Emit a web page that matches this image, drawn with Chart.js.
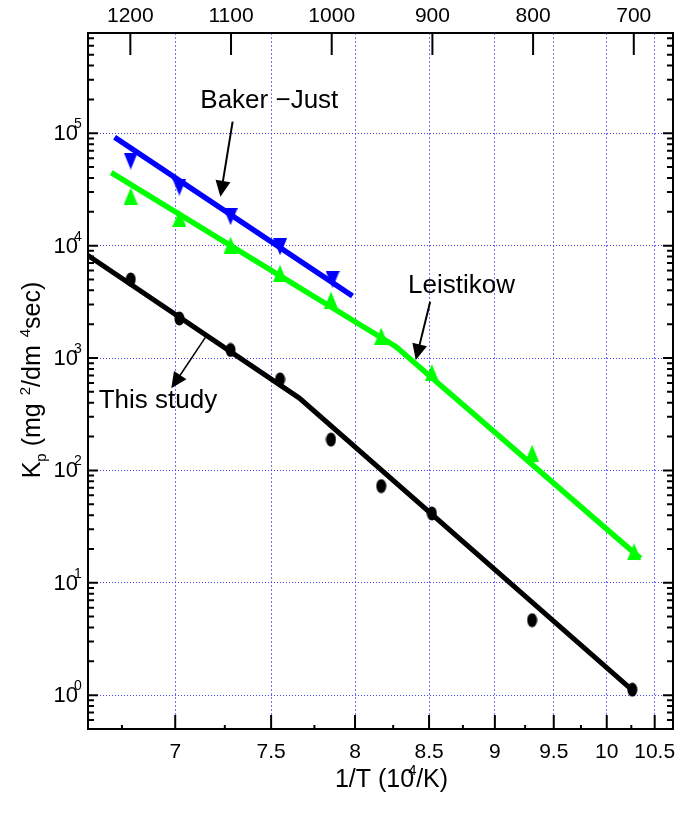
<!DOCTYPE html>
<html>
<head>
<meta charset="utf-8">
<script src="https://cdn.jsdelivr.net/npm/chart.js@4.4.1/dist/chart.umd.min.js"></script>
<style>
  html, body { margin: 0; padding: 0; background: #fff; }
  #wrap { width: 681px; height: 818px; }
</style>
</head>
<body>
<div id="wrap"><canvas id="chart" width="681" height="818"></canvas></div>
<script>
/* ---- data (x in 10^4/K, y = Kp in mg^2/dm^4 sec) ---- */
const invTicks  = [7, 7.5, 8, 8.5, 9, 9.5, 10, 10.5];
const invMinor  = [6.75, 7.25, 7.75, 8.25, 8.75, 9.25, 9.75, 10.25];
const tempTicks = [1200, 1100, 1000, 900, 800, 700];   // deg C, top axis
const decades   = [0, 1, 2, 3, 4, 5];

const studyX    = [6.79, 7.02, 7.28, 7.55, 7.85, 8.17, 8.52, 9.31, 10.26];
const studyY    = [5000, 2250, 1180, 645, 188, 72.5, 41.4, 4.65, 1.12];
const studyFitX = [6.597, 7.661, 10.287];
const studyFitY = [8230, 440, 1.06];

const bakerX    = [6.79, 7.02, 7.28, 7.55, 7.86];
const bakerY    = [56600, 33200, 18100, 9780, 5010];
const bakerFitX = [6.717, 7.984];
const bakerFitY = [92000, 3560];

const leisX     = [6.79, 7.02, 7.28, 7.55, 7.85, 8.17, 8.52, 9.31, 10.28];
const leisY     = [27600, 17500, 10100, 5670, 3280, 1570, 740, 142, 18.9];
const leisFitX  = [6.702, 8.269, 10.347];
const leisFitY  = [44600, 1260, 16.5];

// the axis itself is linear in T (K), labelled in 1/T
const toK = v => 1e4 / v;
const pts = (xs, ys) => xs.map((v, i) => ({ x: toK(v), y: ys[i] }));

const FONT = '"Liberation Sans", Arial, sans-serif';

// ── marker images ─────────────────────────────────────────
function markCanvas(w, h, draw) {
  const c = document.createElement('canvas');
  c.width = w; c.height = h;
  draw(c.getContext('2d'), w, h);
  return c;
}
const dot = markCanvas(11, 15, (g, w, h) => {
  g.fillStyle = '#000';
  g.beginPath(); g.ellipse(w / 2, h / 2, w / 2 - 0.5, h / 2 - 0.5, 0, 0, Math.PI * 2); g.fill();
});
const triUp = markCanvas(14, 17, (g, w, h) => {
  g.fillStyle = '#00ff00';
  g.beginPath(); g.moveTo(w / 2, 0); g.lineTo(w, h); g.lineTo(0, h); g.closePath(); g.fill();
});
const triDown = markCanvas(14, 17, (g, w, h) => {
  g.fillStyle = '#0000ff';
  g.beginPath(); g.moveTo(0, 0); g.lineTo(w, 0); g.lineTo(w / 2, h); g.closePath(); g.fill();
});

// ── annotations (anchored in data units) ──────────────────
const NOTES = [
  { text: 'Baker \u2212Just', at: [7.49, 1.94e5], from: [7.291, 1.27e5], to: [7.227, 27200], lw: 2 },
  { text: 'Leistikow',        at: [8.74, 4370],  from: [8.508, 3170],  to: [8.406, 959],   lw: 2 },
  { text: 'This study',       at: [6.917, 414],  from: [7.150, 1527],  to: [6.981, 537],   lw: 1.5 }
];

function arrow(ctx, x0, y0, x1, y1, lw, len, wid) {
  const a = Math.atan2(y1 - y0, x1 - x0);
  ctx.lineWidth = lw;
  ctx.beginPath();
  ctx.moveTo(x0, y0);
  ctx.lineTo(x1 - Math.cos(a) * len * 0.8, y1 - Math.sin(a) * len * 0.8);
  ctx.stroke();
  ctx.save();
  ctx.translate(x1, y1); ctx.rotate(a);
  ctx.beginPath(); ctx.moveTo(0, 0); ctx.lineTo(-len, wid / 2); ctx.lineTo(-len, -wid / 2); ctx.closePath();
  ctx.fill();
  ctx.restore();
}

// frame, inward ticks, y labels, axis titles, notes
const decor = {
  id: 'decor',
  afterDatasetsDraw(chart) {
    const { ctx, chartArea: a, scales } = chart;
    const xs = scales.x, ys = scales.y;
    ctx.save();
    ctx.strokeStyle = '#000';
    ctx.fillStyle = '#000';

    // ticks
    ctx.lineWidth = 2;
    ctx.beginPath();
    invTicks.forEach(v => { const p = xs.getPixelForValue(toK(v)); ctx.moveTo(p, a.bottom); ctx.lineTo(p, a.bottom - 14); });
    invMinor.forEach(v => { const p = xs.getPixelForValue(toK(v)); ctx.moveTo(p, a.bottom); ctx.lineTo(p, a.bottom - 4); });
    tempTicks.forEach(c => { const p = xs.getPixelForValue(c + 273.15); ctx.moveTo(p, a.top); ctx.lineTo(p, a.top + 22); });
    for (let d = -1; d <= 5; d++) {
      for (let m = 1; m <= 9; m++) {
        const val = m * Math.pow(10, d);
        if (val < ys.min || val > ys.max) continue;
        const p = ys.getPixelForValue(val);
        const len = m === 1 ? 10 : 6;
        ctx.moveTo(a.left, p); ctx.lineTo(a.left + len, p);
        ctx.moveTo(a.right, p); ctx.lineTo(a.right - len, p);
      }
    }
    ctx.stroke();

    // frame
    ctx.lineWidth = 2;
    ctx.strokeRect(a.left, a.top, a.right - a.left, a.bottom - a.top);

    // y labels 10^n
    decades.forEach(n => {
      const p = ys.getPixelForValue(Math.pow(10, n));
      ctx.font = '22px ' + FONT;
      ctx.textAlign = 'right'; ctx.textBaseline = 'middle';
      ctx.fillText('10', a.left - 10, p + 1);
      ctx.font = '14px ' + FONT;
      ctx.textAlign = 'left'; ctx.textBaseline = 'alphabetic';
      ctx.fillText(String(n), a.left - 14, p - 5);
    });

    // x title
    ctx.textBaseline = 'alphabetic'; ctx.textAlign = 'left';
    const big = '25px ' + FONT, small = '15px ' + FONT;
    ctx.font = big;
    const t1 = '1/T (10', t2 = '/K)';
    const w1 = ctx.measureText(t1).width, w2 = ctx.measureText(t2).width;
    let x0 = (a.left + a.right) / 2 + 10 - (w1 + w2) / 2;
    ctx.fillText(t1, x0, 787);
    ctx.font = small; ctx.fillText('4', x0 + w1 - 6, 775);
    ctx.font = big; ctx.fillText(t2, x0 + w1 + 2, 787);

    // y title, rotated
    ctx.save();
    ctx.translate(40, 380);
    ctx.rotate(-Math.PI / 2);
    const parts = [
      ['K', big, 0, 0], ['p', small, 0, 6], [' (mg', big, 0, 0], ['2', small, 8, -10],
      ['/dm', big, 0, 0], ['4', small, 8, -10], ['sec)', big, 0, 0]
    ];
    let total = 0;
    parts.forEach(([s, f, gap]) => { ctx.font = f; total += gap + ctx.measureText(s).width; });
    let cx = -total / 2;
    parts.forEach(([s, f, gap, dy]) => {
      ctx.font = f; cx += gap;
      ctx.fillText(s, cx, dy);
      cx += ctx.measureText(s).width;
    });
    ctx.restore();

    // notes
    ctx.font = '26px ' + FONT;
    ctx.textAlign = 'center'; ctx.textBaseline = 'middle';
    NOTES.forEach(n => {
      ctx.fillText(n.text, xs.getPixelForValue(toK(n.at[0])), ys.getPixelForValue(n.at[1]));
      arrow(ctx,
        xs.getPixelForValue(toK(n.from[0])), ys.getPixelForValue(n.from[1]),
        xs.getPixelForValue(toK(n.to[0])), ys.getPixelForValue(n.to[1]),
        n.lw, 16, 15);
    });
    ctx.restore();
  }
};

const xRange = { min: 934.2, max: 1515.2, reverse: true };
const noSidePad = s => { s.paddingLeft = 0; s.paddingRight = 0; };

new Chart(document.getElementById('chart'), {
  type: 'scatter',
  data: {
    datasets: [
      { data: pts(leisFitX, leisFitY), showLine: true, borderColor: '#00ff00', borderWidth: 5.5, pointRadius: 0 },
      { data: pts(leisX, leisY), pointStyle: triUp, pointRadius: 7 },
      { data: pts(bakerFitX, bakerFitY), showLine: true, borderColor: '#0000ff', borderWidth: 5.5, pointRadius: 0 },
      { data: pts(bakerX, bakerY), pointStyle: triDown, pointRadius: 7 },
      { data: pts(studyFitX, studyFitY), showLine: true, borderColor: '#000', borderWidth: 5, pointRadius: 0 },
      { data: pts(studyX, studyY), pointStyle: dot, pointRadius: 6 }
    ]
  },
  options: {
    responsive: false,
    animation: false,
    devicePixelRatio: 1,
    layout: { padding: { left: 0, right: 7, top: 0, bottom: 0 } },
    plugins: { legend: { display: false }, tooltip: { enabled: false } },
    scales: {
      x: {
        type: 'linear', position: 'bottom', ...xRange,
        afterBuildTicks: s => { s.ticks = invTicks.map(v => ({ value: toK(v) })); },
        afterFit: s => { s.height = 89; noSidePad(s); },
        ticks: {
          callback: v => String(+(1e4 / v).toFixed(2)),
          font: { family: FONT, size: 21 }, color: '#000', padding: 11, maxRotation: 0
        },
        grid: { color: '#7070ff', lineWidth: 1, drawTicks: false },
        border: { display: false, dash: [2, 2] }
      },
      x2: {
        type: 'linear', position: 'top', ...xRange,
        afterBuildTicks: s => { s.ticks = tempTicks.map(c => ({ value: c + 273.15 })); },
        afterFit: s => { s.height = 33; noSidePad(s); },
        ticks: {
          callback: v => String(Math.round(v - 273.15)),
          font: { family: FONT, size: 21 }, color: '#000', padding: 4, maxRotation: 0
        },
        grid: { display: false, drawTicks: false },
        border: { display: false }
      },
      y: {
        type: 'logarithmic', position: 'left', min: 0.5, max: 7.8e5,
        afterBuildTicks: s => { s.ticks = decades.map(n => ({ value: Math.pow(10, n) })); },
        afterFit: s => { s.width = 88; s.paddingTop = 0; s.paddingBottom = 0; },
        ticks: { display: false },
        grid: { color: '#4040ff', lineWidth: 1, drawTicks: false },
        border: { display: false, dash: [1, 2] }
      }
    }
  },
  plugins: [decor]
});
</script>
</body>
</html>
